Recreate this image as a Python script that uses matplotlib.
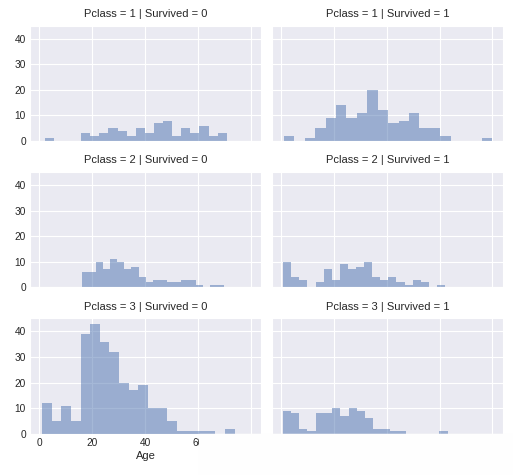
import numpy as np
import matplotlib
matplotlib.use("Agg")
import matplotlib.pyplot as plt
import seaborn as sns

# age histograms per (Pclass, Survived), 20 bins over each subset's own age range
age_range = {
  (1, 0): (2.0, 71.0),
  (1, 1): (0.92, 80.0),
  (2, 0): (16.0, 70.0),
  (2, 1): (0.67, 62.0),
  (3, 0): (1.0, 74.0),
  (3, 1): (0.42, 63.0),
}
counts = {
  (1, 0): [1, 0, 0, 0, 3, 2, 3, 5, 4, 2, 5, 3, 7, 8, 2, 5, 3, 6, 2, 3],
  (1, 1): [2, 0, 1, 5, 9, 14, 9, 11, 20, 12, 7, 8, 11, 5, 5, 2, 0, 0, 0, 1],
  (2, 0): [6, 6, 10, 7, 11, 10, 7, 8, 4, 2, 3, 3, 2, 2, 3, 3, 1, 0, 1, 1],
  (2, 1): [10, 4, 3, 0, 2, 7, 3, 9, 7, 8, 10, 4, 3, 4, 2, 1, 3, 2, 0, 1],
  (3, 0): [12, 5, 11, 5, 39, 43, 36, 32, 20, 17, 19, 10, 10, 5, 1, 1, 1, 1, 0, 2],
  (3, 1): [9, 8, 2, 1, 8, 8, 10, 7, 10, 9, 6, 2, 2, 1, 1, 0, 0, 0, 0, 1],
}
pclasses = [1, 2, 3]
survived = [0, 1]
age_min, age_max = 0.42, 80.0

sns.set_style("darkgrid")
plt.rcParams['font.family'] = ['Liberation Sans', 'DejaVu Sans']
plt.rcParams['text.color'] = '.15'
plt.rcParams['xtick.color'] = '.15'
plt.rcParams['ytick.color'] = '.15'
plt.rcParams['axes.labelcolor'] = '.15'

fig = plt.figure(figsize=(5.13, 4.75), dpi=100)

lefts = [30/513., 272/513.]
bottoms = [(475-141)/475., (475-287.3)/475., (475-433.7)/475.]
w = 231/513.
h = 115.5/475.

axes = {}
first = None
for i, pc in enumerate(pclasses):
  for j, sv in enumerate(survived):
    if first is None:
      ax = fig.add_axes([lefts[j], bottoms[i], w, h])
      first = ax
    else:
      ax = fig.add_axes([lefts[j], bottoms[i], w, h], sharex=first, sharey=first)
    lo, hi = age_range[(pc, sv)]
    edges = np.linspace(lo, hi, 21)
    ax.hist(edges[:-1], bins=edges, weights=counts[(pc, sv)],
            color='#4C72B0', alpha=0.5, edgecolor='none', linewidth=0)
    ax.set_title("Pclass = %d | Survived = %d" % (pc, sv), fontsize=8)
    ax.tick_params(labelsize=7.3, length=0, pad=3)
    if j == 1:
      ax.tick_params(labelleft=False)
    if i < 2:
      ax.tick_params(labelbottom=False)
    axes[(pc, sv)] = ax

pad = (age_max - age_min) * 0.05
first.set_xlim(age_min - pad, age_max + pad)
first.set_ylim(0, 43 * 1.05)
first.set_xticks([0, 20, 40, 60, 80])
first.set_yticks([0, 10, 20, 30, 40])
axes[(3, 0)].set_xlabel("Age", fontsize=8, labelpad=2)
axes[(3, 1)].set_xlabel("Age", fontsize=8, labelpad=2)

# the reference has its lower right corner blanked out
fig.patches.append(plt.Rectangle((199/513., 0), 1, (475-434)/475.,
                                 transform=fig.transFigure, color='#fefefe',
                                 zorder=10))

fig.savefig("out.png", dpi=100)
